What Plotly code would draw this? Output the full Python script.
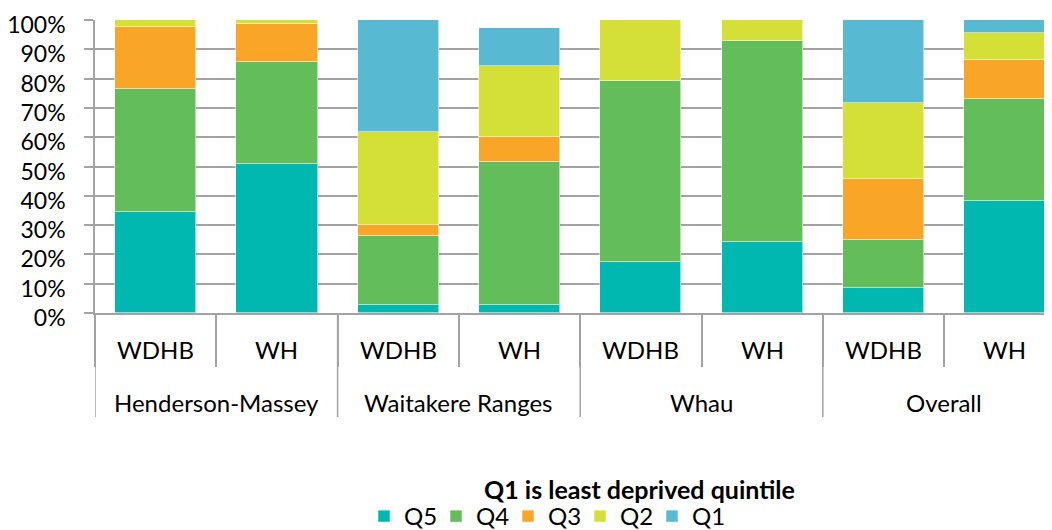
import plotly.graph_objects as go

groups = ["Henderson-Massey", "Waitakere Ranges", "Whau", "Overall"]
subs = ["WDHB", "WH"]
series_names = ["Q5", "Q4", "Q3", "Q2", "Q1"]
colors = ["#00B8AF", "#63BD5B", "#F9A628", "#D4E037", "#58B9D2"]

# values in % for bars: HM-WDHB, HM-WH, WR-WDHB, WR-WH, Wh-WDHB, Wh-WH, Ov-WDHB, Ov-WH
q5 = [34.6, 50.7, 2.6, 2.6, 17.4, 24.2, 8.7, 38.2]
q4 = [41.8, 35.1, 23.8, 49.1, 61.8, 68.7, 16.2, 34.8]
q3 = [21.3, 12.9, 3.5, 8.2, 0.0, 0.0, 20.9, 13.4]
q2 = [2.3, 1.3, 31.8, 24.3, 20.8, 7.1, 25.8, 9.1]
q1 = [0.0, 0.0, 38.3, 13.2, 0.0, 0.0, 28.4, 4.5]
series = [q5, q4, q3, q2, q1]

legend_title = "Q1 is least deprived quintile"

FONT = "Lato"
FS = 24
GRID = "#A3A3A3"
OFF = 8  # page body margin
PAGE_W, PAGE_H = 1052, 530
W, H = PAGE_W - OFF, PAGE_H - OFF
# target page-pixel geometry of the plot area
P_LEFT, P_TOP, P_BOTTOM, P_RIGHT = 95, 20, 313, 1052
ML = P_LEFT - OFF
MT = P_TOP - OFF
MB = H - (P_BOTTOM - OFF)
MR = W - (P_RIGHT - OFF)
plot_h = H - MT - MB
plot_w = W - ML - MR

sub_labels = [s for g in groups for s in subs]
n = len(sub_labels)
xs = list(range(n))

def py(pix):
    # page pixel y (from top) -> paper y
    return (P_BOTTOM - pix) / plot_h

def px(pix):
    return (pix - P_LEFT) / plot_w

fig = go.Figure()
for name, vals, col in zip(series_names, series, colors):
    fig.add_trace(go.Bar(
        x=xs, y=vals, name=name, width=0.67,
        marker=dict(color=col, line=dict(color="rgba(255,255,255,0.55)", width=1)),
    ))

annotations = []
for i, lab in enumerate(sub_labels):
    annotations.append(dict(x=i, y=py(350), xref="x", yref="paper", text=lab,
                            showarrow=False, yanchor="middle", xanchor="center",
                            font=dict(family=FONT, size=FS, color="#000")))
ng = len(subs)
for gi, g in enumerate(groups):
    annotations.append(dict(x=gi * ng + (ng - 1) / 2, y=py(402), xref="x", yref="paper", text=g,
                            showarrow=False, yanchor="middle", xanchor="center",
                            font=dict(family=FONT, size=FS, color="#000")))
annotations.append(dict(x=px(639), y=py(489), xref="paper", yref="paper",
                        text="<b>" + legend_title + "</b>", showarrow=False,
                        yanchor="middle", xanchor="center",
                        font=dict(family=FONT, size=25, color="#000")))

shapes = []
for gi in range(len(groups)):
    xb = gi * ng - 0.5
    shapes.append(dict(type="line", xref="x", yref="paper", x0=xb, x1=xb,
                       y0=0, y1=py(417), line=dict(color=GRID, width=1.5)))

xmax = -0.5 + plot_w / 121.3

fig.update_layout(
    width=W, height=H,
    margin=dict(l=ML, r=MR, t=MT, b=MB, pad=0, autoexpand=False),
    barmode="stack",
    plot_bgcolor="white", paper_bgcolor="white",
    font=dict(family=FONT, size=FS, color="#000"),
    showlegend=True,
    legend=dict(orientation="h", x=px(364), xanchor="left",
                y=py(516.5), yanchor="middle", traceorder="normal",
                font=dict(family=FONT, size=FS, color="#000"),
                entrywidth=27, itemclick=False),
    annotations=annotations,
    shapes=shapes,
    bargap=0,
)
fig.update_xaxes(
    range=[-0.5, xmax], showgrid=False, zeroline=False, automargin=False,
    tickmode="array", tickvals=[i - 0.5 for i in range(n + 1)],
    ticks="outside", ticklen=52, tickcolor=GRID, tickwidth=1.5,
    showticklabels=False, showline=True, linecolor=GRID, linewidth=1.5,
)
fig.update_yaxes(
    range=[0, 100], dtick=10, ticksuffix="%", showgrid=True, gridcolor=GRID, gridwidth=1.5,
    zeroline=False, showline=True, linecolor=GRID, linewidth=1.5, automargin=False,
    ticks="outside", ticklen=9, tickcolor=GRID, tickwidth=1.5, ticklabelstandoff=14,
    ticklabelshift=5, ticklabeloverflow="allow",
    tickfont=dict(family=FONT, size=23, color="#000"),
)

fig.write_html("out.html")
